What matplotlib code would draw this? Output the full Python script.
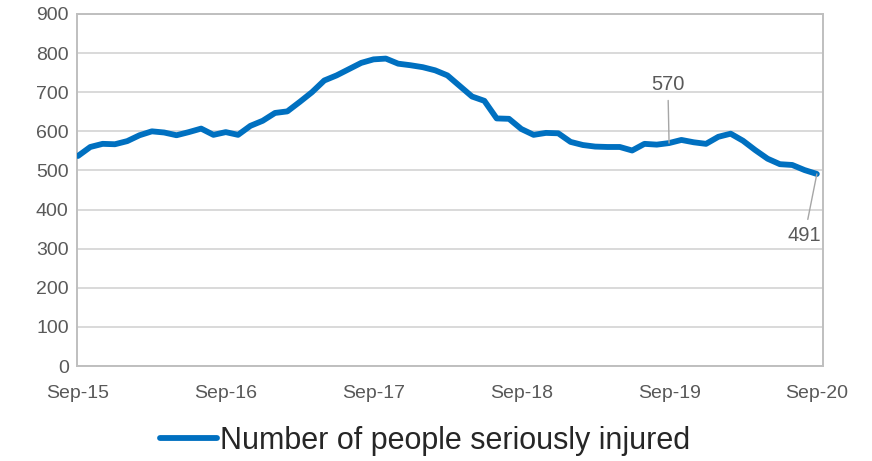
import numpy as np
import matplotlib
matplotlib.use('Agg')
import matplotlib.pyplot as plt

plt.rcParams['font.family'] = ['Liberation Sans', 'DejaVu Sans']

# monthly values, Sep-15 .. Sep-20
injured = [537, 560, 568, 567, 575, 590, 600, 597, 590, 598,
           607, 591, 598, 591, 614, 627, 647, 651, 675, 700,
           730, 743, 759, 775, 784, 786, 773, 769, 764, 756,
           743, 716, 689, 678, 633, 632, 606, 591, 596, 595,
           573, 565, 561, 560, 560, 551, 568, 566, 570, 578,
           572, 568, 586, 594, 576, 552, 530, 516, 514, 501,
           491]
tick_pos = [0, 12, 24, 36, 48, 60]
tick_labels = ['Sep-15', 'Sep-16', 'Sep-17', 'Sep-18', 'Sep-19', 'Sep-20']
series_name = 'Number of people seriously injured'

blue = '#0070C0'
grey_txt = '#595959'

x = np.arange(len(injured))

fig = plt.figure(figsize=(8.72, 4.61), dpi=100)
ax = fig.add_axes([77/872, 1-366/461, (823-77)/872, (366-14)/461])

line, = ax.plot(x, injured, color=blue, lw=4.2, solid_capstyle='round',
                solid_joinstyle='round', label=series_name, zorder=3)

ax.set_ylim(0, 900)
ax.set_yticks(range(0, 901, 100))
ax.set_xlim(-0.08, 60.5)
ax.set_xticks(tick_pos)
ax.set_xticklabels(tick_labels)

ax.grid(axis='y', color='#D9D9D9', lw=1.4)
ax.set_axisbelow(True)
for s in ax.spines.values():
    s.set_color('#BFBFBF')
    s.set_linewidth(1.4)
ax.tick_params(length=0, labelsize=14, labelcolor=grey_txt)
ax.tick_params(axis='y', pad=6)
ax.tick_params(axis='x', pad=14)

# data labels with leader lines
ax.annotate(str(injured[48]), xy=(48, injured[48]), xytext=(47.9, 721),
            ha='center', va='center', fontsize=14.5, color=grey_txt,
            arrowprops=dict(arrowstyle='-', color='#A6A6A6', lw=1,
                            shrinkA=3, shrinkB=0))
ax.annotate(str(injured[60]), xy=(60, injured[60]), xytext=(59.0, 333),
            ha='center', va='center', fontsize=14.5, color=grey_txt,
            arrowprops=dict(arrowstyle='-', color='#A6A6A6', lw=1,
                            shrinkA=3, shrinkB=0))

fig.legend(handles=[line], loc='center', bbox_to_anchor=(425/872, 1-441/461),
           frameon=False, fontsize=22, handlelength=1.85, handletextpad=0.1,
           labelcolor='#262626')

fig.savefig('out.png', dpi=100)
